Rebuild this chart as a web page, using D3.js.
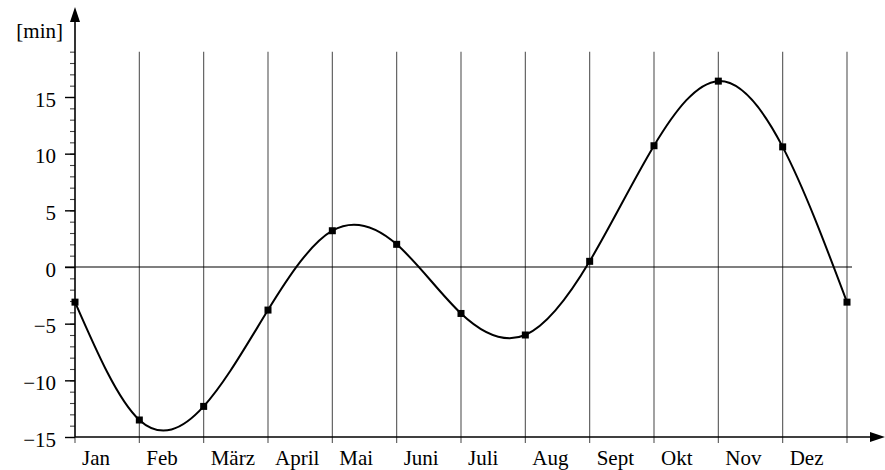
<!DOCTYPE html>
<html>
<head>
<meta charset="utf-8">
<script src="https://cdn.jsdelivr.net/npm/d3@7"></script>
<style>
  body { margin: 0; background: #fff; }
</style>
</head>
<body>
<div class="container"></div>
<script>
// month names (label sits right of each month's start line)
var months = ['Jan', 'Feb', 'März', 'April', 'Mai', 'Juni', 'Juli', 'Aug', 'Sept', 'Okt', 'Nov', 'Dez'];
// equation of time at the first of each month, plus the following Jan 1
var monthStart = [0, 1, 2, 3, 4, 5, 6, 7, 8, 9, 10, 11, 12];
var minutes = [-3.1, -13.5, -12.3, -3.8, 3.2, 2.0, -4.1, -6.0, 0.5, 10.7, 16.4, 10.6, -3.1];
var majorTicks = [-15, -10, -5, 0, 5, 10, 15];
var minorTicks = d3.range(-15, 20, 1);

var w = 885;
var h = 470;

var svg = d3.select('.container')
  .append('svg')
  .attr('width', w)
  .attr('height', h)
  .attr('font-family', 'Liberation Serif')
  .attr('font-size', 21);

var xScale = d3.scaleLinear()
  .domain([0, 12])
  .range([75, 847]);

var yScale = d3.scaleLinear()
  .domain([-15, 15])
  .range([437, 97]);

var gridTop = yScale(19);
var gridBottom = yScale(-15) + 6;

/* ===== GRID LINES ===== */

svg.append('g')
  .selectAll('line')
  .data(monthStart)
  .enter()
  .append('line')
  .attr('x1', function(d) { return xScale(d); })
  .attr('x2', function(d) { return xScale(d); })
  .attr('y1', function(d) { return d === 0 ? yScale(-15) : gridTop; })
  .attr('y2', gridBottom)
  .attr('stroke', '#555')
  .attr('stroke-width', 1.1);

// zero line
svg.append('line')
  .attr('x1', xScale(0) - 10)
  .attr('x2', xScale(12) + 5)
  .attr('y1', yScale(0))
  .attr('y2', yScale(0))
  .attr('stroke', '#000')
  .attr('stroke-width', 1.2);

/* ===== Y AXIS ===== */

var yMinor = d3.axisLeft(yScale)
  .tickValues(minorTicks)
  .tickSize(5)
  .tickFormat('');

var yMajor = d3.axisLeft(yScale)
  .tickValues(majorTicks)
  .tickSize(10)
  .tickPadding(9)
  .tickFormat(function(d) { return d < 0 ? '\u2212' + Math.abs(d) : d; });

svg.append('g')
  .attr('transform', 'translate(' + xScale(0) + ',0)')
  .call(yMinor)
  .call(function(g) { g.select('.domain').remove(); })
  .selectAll('line')
  .attr('stroke', '#444')
  .attr('stroke-width', 1.1);

var yg = svg.append('g')
  .attr('transform', 'translate(' + xScale(0) + ',0)')
  .call(yMajor)
  .attr('font-family', 'Liberation Serif')
  .attr('font-size', 21);
yg.select('.domain').remove();
yg.selectAll('line').attr('stroke', '#000').attr('stroke-width', 1.4);
yg.selectAll('text')
  .attr('dy', null)
  .attr('y', 9)
  .attr('fill', '#000');

svg.append('line')
  .attr('x1', xScale(0)).attr('x2', xScale(0))
  .attr('y1', yScale(-15)).attr('y2', 20)
  .attr('stroke', '#000').attr('stroke-width', 1.6);

svg.append('path')
  .attr('d', 'M' + xScale(0) + ',7 L' + (xScale(0) - 5) + ',22 L' + (xScale(0) + 5) + ',22 Z')
  .attr('fill', '#000');

svg.append('text')
  .attr('x', 63)
  .attr('y', 38)
  .attr('text-anchor', 'end')
  .text('[min]');

/* ===== X AXIS ===== */

svg.append('line')
  .attr('x1', xScale(0)).attr('x2', 872)
  .attr('y1', yScale(-15)).attr('y2', yScale(-15))
  .attr('stroke', '#000').attr('stroke-width', 1.6);

svg.append('path')
  .attr('d', 'M885,' + yScale(-15) + ' L870,' + (yScale(-15) - 5) + ' L870,' + (yScale(-15) + 5) + ' Z')
  .attr('fill', '#000');

svg.append('g')
  .selectAll('text')
  .data(months)
  .enter()
  .append('text')
  .attr('x', function(d, i) { return xScale(i) + 7; })
  .attr('y', 465)
  .attr('text-anchor', 'start')
  .text(function(d) { return d; });

/* ===== CURVE ===== */

var points = monthStart.map(function(m, i) { return [m, minutes[i]]; });

var line = d3.line()
  .x(function(d) { return xScale(d[0]); })
  .y(function(d) { return yScale(d[1]); })
  .curve(d3.curveNatural);

svg.append('path')
  .datum(points)
  .attr('d', line)
  .attr('fill', 'none')
  .attr('stroke', '#000')
  .attr('stroke-width', 2);

svg.append('g')
  .selectAll('rect')
  .data(points)
  .enter()
  .append('rect')
  .attr('x', function(d) { return xScale(d[0]) - 3.5; })
  .attr('y', function(d) { return yScale(d[1]) - 3.5; })
  .attr('width', 7)
  .attr('height', 7)
  .attr('fill', '#000');
</script>
</body>
</html>
